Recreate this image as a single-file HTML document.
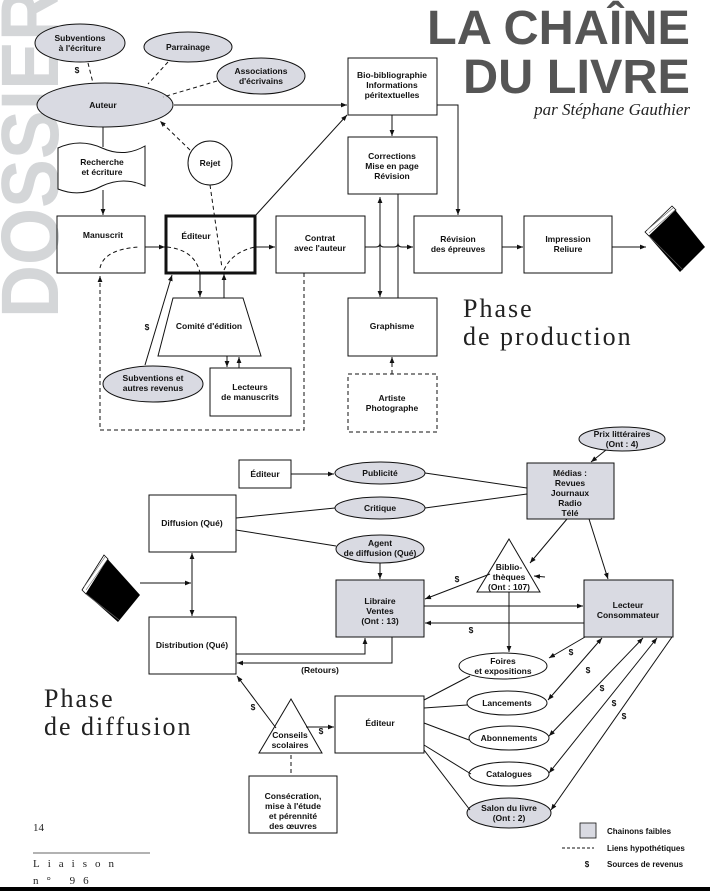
<!DOCTYPE html>
<html><head><meta charset="utf-8"><style>
html,body{margin:0;padding:0;background:#fff;}
svg{display:block;}
text{font-family:"Liberation Sans",sans-serif;font-weight:bold;font-size:8.5px;fill:#111;text-anchor:middle;}
.s{font-family:"Liberation Serif",serif;font-weight:normal;text-anchor:start;fill:#222;}
</style></head><body>
<svg width="710" height="891" viewBox="0 0 710 891" xmlns="http://www.w3.org/2000/svg">
<defs>
<marker id="a" viewBox="0 0 10 10" refX="10" refY="5" markerWidth="6" markerHeight="6" orient="auto-start-reverse"><path d="M0,1 L10,5 L0,9 z" fill="#111"/></marker>
</defs>
<rect width="710" height="891" fill="#fff"/>
<!-- DOSSIER -->
<text transform="translate(58,318) rotate(-90)" style="font-size:82px;fill:#d4d6d8;text-anchor:start;font-weight:900" textLength="330" lengthAdjust="spacingAndGlyphs">DOSSIER</text>
<!-- Title -->
<text x="427" y="44" style="font-size:48px;fill:#555;text-anchor:start;font-weight:900" textLength="263" lengthAdjust="spacingAndGlyphs">LA CHAÎNE</text>
<text x="463" y="93" style="font-size:48px;fill:#555;text-anchor:start;font-weight:900" textLength="227" lengthAdjust="spacingAndGlyphs">DU LIVRE</text>
<text x="690" y="115" class="s" style="font-size:17px;font-style:italic;text-anchor:end">par Stéphane Gauthier</text>

<g stroke="#111" stroke-width="1" fill="none">
<ellipse cx="80" cy="43" rx="45" ry="19" fill="#d9dae2"/>
<ellipse cx="188" cy="47" rx="44" ry="15" fill="#d9dae2"/>
<ellipse cx="261" cy="76" rx="44" ry="18" fill="#d9dae2"/>
<ellipse cx="105" cy="105" rx="68" ry="22" fill="#d9dae2"/>
<path d="M58,148 Q80,138 102,148 Q124,158 145,146 L145,186 Q124,176 102,186 Q80,198 58,189 Z" fill="#fff"/>
<circle cx="210" cy="163" r="22" fill="#fff"/>
<rect x="57" y="216" width="88" height="57"/>
<rect x="166" y="216" width="89" height="57" stroke-width="3"/>
<rect x="276" y="216" width="89" height="57"/>
<rect x="348" y="58" width="89" height="57"/>
<rect x="348" y="137" width="89" height="57"/>
<rect x="414" y="216" width="88" height="57"/>
<rect x="524" y="216" width="88" height="57"/>
<rect x="348" y="298" width="89" height="58"/>
<rect x="348" y="374" width="89" height="58" stroke-dasharray="4,3"/>
<path d="M173,298 L243,298 L261,356 L158,356 Z" fill="#fff"/>
<rect x="210" y="368" width="81" height="48"/>
<ellipse cx="153" cy="384" rx="50" ry="18" fill="#d9dae2"/>
<g stroke-dasharray="4,3">
<line x1="88" y1="63" x2="93" y2="83"/>
<line x1="168" y1="62" x2="148" y2="84"/>
<line x1="217" y1="81" x2="163" y2="97"/>
<line x1="190" y1="150" x2="160" y2="121" marker-end="url(#a)"/>
<line x1="210" y1="185" x2="222" y2="268"/>
<path d="M100,268 Q104,249 140,247"/>
<path d="M167,247 Q195,250 200,273"/>
<path d="M224,270 Q232,252 255,247"/>
<path d="M304,273 L304,430 L100,430 L100,276" marker-end="url(#a)"/>
<line x1="392" y1="374" x2="392" y2="357" marker-end="url(#a)"/>
</g>
<line x1="174" y1="105" x2="347" y2="105" marker-end="url(#a)"/>
<line x1="103" y1="127" x2="103" y2="147"/>
<line x1="103" y1="190" x2="103" y2="215" marker-end="url(#a)"/>
<line x1="145" y1="247" x2="165" y2="247" marker-end="url(#a)"/>
<line x1="255" y1="247" x2="275" y2="247" marker-end="url(#a)"/>
<line x1="255" y1="216" x2="347" y2="115" marker-end="url(#a)"/>
<line x1="392" y1="115" x2="392" y2="136" marker-end="url(#a)"/>
<path d="M437,105 L458,105 L458,215" marker-end="url(#a)"/>
<line x1="398" y1="194" x2="398" y2="298"/>
<line x1="380" y1="197" x2="380" y2="297" marker-start="url(#a)" marker-end="url(#a)"/>
<path d="M365,247 L376,247 Q380,247 380,243 Q380,247 384,247 L394,247 Q398,247 398,243 Q398,247 402,247 L413,247" marker-end="url(#a)"/>
<line x1="502" y1="247" x2="523" y2="247" marker-end="url(#a)"/>
<line x1="612" y1="247" x2="646" y2="247" marker-end="url(#a)"/>
<line x1="200" y1="273" x2="200" y2="297" marker-end="url(#a)"/>
<line x1="224" y1="298" x2="224" y2="274" marker-end="url(#a)"/>
<line x1="227" y1="356" x2="227" y2="367" marker-end="url(#a)"/>
<line x1="239" y1="368" x2="239" y2="357" marker-end="url(#a)"/>
<line x1="145" y1="365" x2="172" y2="275" marker-end="url(#a)"/>
</g>
<g>
<polygon points="645,232 672,206 705,247 680,272" fill="#000"/>
<polygon points="645,232 672,206 676,210 649,236" fill="#fff" stroke="#000" stroke-width="0.8"/>
<path d="M647,230 L673,208 M649,233 L675,210" stroke="#666" stroke-width="0.6"/>
<line x1="649" y1="236" x2="683" y2="270" stroke="#555" stroke-width="0.8"/>
</g>
<text x="80" y="41">Subventions</text><text x="80" y="51">à l'écriture</text>
<text x="77" y="73">$</text>
<text x="188" y="50">Parrainage</text>
<text x="261" y="74">Associations</text><text x="261" y="84">d'écrivains</text>
<text x="103" y="108">Auteur</text>
<text x="102" y="165">Recherche</text><text x="102" y="175">et écriture</text>
<text x="210" y="166">Rejet</text>
<text x="103" y="238">Manuscrit</text>
<text x="196" y="239">Éditeur</text>
<text x="320" y="241">Contrat</text><text x="320" y="251">avec l'auteur</text>
<text x="392" y="78">Bio-bibliographie</text><text x="392" y="88">Informations</text><text x="392" y="98">péritextuelles</text>
<text x="392" y="159">Corrections</text><text x="392" y="169">Mise en page</text><text x="392" y="179">Révision</text>
<text x="458" y="242">Révision</text><text x="458" y="252">des épreuves</text>
<text x="568" y="242">Impression</text><text x="568" y="252">Reliure</text>
<text x="392" y="329">Graphisme</text>
<text x="392" y="401">Artiste</text><text x="392" y="411">Photographe</text>
<text x="209" y="329">Comité d'édition</text>
<text x="147" y="330">$</text>
<text x="153" y="381">Subventions et</text><text x="153" y="391">autres revenus</text>
<text x="250" y="390">Lecteurs</text><text x="250" y="400">de manuscrits</text>
<text x="463" y="317" class="s" style="font-size:26px;letter-spacing:2px">Phase</text>
<text x="463" y="345" class="s" style="font-size:26px;letter-spacing:2px">de production</text>

<g stroke="#111" stroke-width="1" fill="none">
<ellipse cx="622" cy="439" rx="43" ry="12" fill="#d9dae2"/>
<rect x="527" y="463" width="87" height="56" fill="#d9dae2"/>
<rect x="239" y="460" width="52" height="28"/>
<ellipse cx="380" cy="473" rx="45" ry="11" fill="#d9dae2"/>
<ellipse cx="380" cy="508" rx="45" ry="11" fill="#d9dae2"/>
<ellipse cx="380" cy="549" rx="44" ry="14" fill="#d9dae2"/>
<rect x="149" y="495" width="87" height="57"/>
<rect x="149" y="617" width="87" height="57"/>
<rect x="336" y="580" width="88" height="57" fill="#d9dae2"/>
<rect x="584" y="580" width="89" height="57" fill="#d9dae2"/>
<polygon points="509,539 540,592 477,592" fill="#fff"/>
<ellipse cx="503" cy="666" rx="44" ry="13"/>
<ellipse cx="507" cy="703" rx="40" ry="12"/>
<ellipse cx="509" cy="738" rx="40" ry="12"/>
<ellipse cx="509" cy="774" rx="40" ry="12"/>
<ellipse cx="509" cy="813" rx="42" ry="15" fill="#d9dae2"/>
<rect x="335" y="696" width="89" height="57"/>
<polygon points="291,699 322,753 259,753" fill="#fff"/>
<rect x="249" y="776" width="88" height="57"/>
<line x1="291" y1="474" x2="334" y2="474" marker-end="url(#a)"/>
<line x1="425" y1="473" x2="527" y2="488"/>
<line x1="425" y1="508" x2="527" y2="494"/>
<line x1="236" y1="518" x2="335" y2="508"/>
<line x1="236" y1="530" x2="336" y2="546"/>
<line x1="380" y1="563" x2="380" y2="579" marker-end="url(#a)"/>
<line x1="606" y1="450" x2="591" y2="462" marker-end="url(#a)"/>
<line x1="567" y1="519" x2="530" y2="563" marker-end="url(#a)"/>
<line x1="589" y1="519" x2="608" y2="579" marker-end="url(#a)"/>
<line x1="490" y1="574" x2="425" y2="599" marker-end="url(#a)"/>
<line x1="545" y1="577" x2="534" y2="576" marker-end="url(#a)"/>
<line x1="509" y1="592" x2="509" y2="652" marker-end="url(#a)"/>
<line x1="424" y1="606" x2="583" y2="606" marker-end="url(#a)"/>
<line x1="584" y1="623" x2="425" y2="623" marker-end="url(#a)"/>
<line x1="140" y1="583" x2="191" y2="583" marker-end="url(#a)"/>
<line x1="192" y1="553" x2="192" y2="616" marker-start="url(#a)" marker-end="url(#a)"/>
<path d="M236,654 L365,654 L365,638" marker-end="url(#a)"/>
<path d="M392,637 L392,663 L237,663" marker-end="url(#a)"/>
<line x1="276" y1="728" x2="237" y2="676" marker-end="url(#a)"/>
<line x1="306" y1="727" x2="334" y2="727" marker-end="url(#a)"/>
<line x1="291" y1="755" x2="291" y2="776" stroke-dasharray="4,3"/>
<line x1="424" y1="700" x2="470" y2="676"/>
<line x1="424" y1="708" x2="467" y2="705"/>
<line x1="424" y1="723" x2="469" y2="740"/>
<line x1="424" y1="745" x2="471" y2="774"/>
<line x1="424" y1="750" x2="470" y2="810"/>
<line x1="585" y1="637" x2="549" y2="658" marker-end="url(#a)"/>
<line x1="602" y1="638" x2="548" y2="700" marker-start="url(#a)" marker-end="url(#a)"/>
<line x1="643" y1="638" x2="549" y2="736" marker-start="url(#a)" marker-end="url(#a)"/>
<line x1="657" y1="638" x2="549" y2="773" marker-start="url(#a)" marker-end="url(#a)"/>
<line x1="672" y1="637" x2="551" y2="810" marker-end="url(#a)"/>
</g>
<g>
<polygon points="82,590 104,555 140,595 118,622" fill="#000"/>
<polygon points="82,590 104,555 108,559 86,594" fill="#fff" stroke="#000" stroke-width="0.8"/>
<path d="M84,587 L105,557 M86,590 L107,560" stroke="#666" stroke-width="0.6"/>
<line x1="86" y1="594" x2="119" y2="620" stroke="#555" stroke-width="0.8"/>
</g>
<text x="622" y="437">Prix littéraires</text><text x="622" y="447">(Ont : 4)</text>
<text x="570" y="476">Médias :</text><text x="570" y="486">Revues</text><text x="570" y="496">Journaux</text><text x="570" y="506">Radio</text><text x="570" y="516">Télé</text>
<text x="265" y="477">Éditeur</text>
<text x="380" y="476">Publicité</text>
<text x="380" y="511">Critique</text>
<text x="380" y="546">Agent</text><text x="380" y="556">de diffusion (Qué)</text>
<text x="192" y="526">Diffusion (Qué)</text>
<text x="192" y="648">Distribution (Qué)</text>
<text x="380" y="604">Libraire</text><text x="380" y="614">Ventes</text><text x="380" y="624">(Ont : 13)</text>
<text x="628" y="608">Lecteur</text><text x="628" y="618">Consommateur</text>
<text x="509" y="570">Biblio-</text><text x="509" y="580">thèques</text><text x="509" y="590">(Ont : 107)</text>
<text x="457" y="582">$</text>
<text x="471" y="633">$</text>
<text x="320" y="673">(Retours)</text>
<text x="503" y="664">Foires</text><text x="503" y="674">et expositions</text>
<text x="507" y="706">Lancements</text>
<text x="509" y="741">Abonnements</text>
<text x="509" y="777">Catalogues</text>
<text x="509" y="811">Salon du livre</text><text x="509" y="821">(Ont : 2)</text>
<text x="380" y="726">Éditeur</text>
<text x="290" y="738">Conseils</text><text x="290" y="748">scolaires</text>
<text x="253" y="710">$</text>
<text x="321" y="734">$</text>
<text x="293" y="799">Consécration,</text><text x="293" y="809">mise à l'étude</text><text x="293" y="819">et pérennité</text><text x="293" y="829">des œuvres</text>
<text x="571" y="655">$</text><text x="588" y="673">$</text><text x="602" y="691">$</text><text x="614" y="706">$</text><text x="624" y="719">$</text>
<text x="44" y="707" class="s" style="font-size:26px;letter-spacing:2px">Phase</text>
<text x="44" y="735" class="s" style="font-size:26px;letter-spacing:2px">de diffusion</text>
<rect x="580" y="823" width="16" height="15" fill="#d9dae2" stroke="#111" stroke-width="0.8"/>
<text x="607" y="834" style="text-anchor:start;font-size:8px">Chainons faibles</text>
<line x1="562" y1="848" x2="594" y2="848" stroke="#111" stroke-dasharray="3,2"/>
<text x="607" y="851" style="text-anchor:start;font-size:8px">Liens hypothétiques</text>
<text x="587" y="867" style="font-size:8px">$</text>
<text x="607" y="867" style="text-anchor:start;font-size:8px">Sources de revenus</text>
<text x="33" y="831" class="s" style="font-size:11px">14</text>
<line x1="33" y1="853" x2="150" y2="853" stroke="#333" stroke-width="0.8"/>
<text x="33" y="867" class="s" style="font-size:11px;letter-spacing:8px">Liaison</text>
<text x="33" y="884" class="s" style="font-size:11px;letter-spacing:8px">n° 96</text>
<rect x="0" y="887" width="710" height="4" fill="#000"/>
</svg>
</body></html>
